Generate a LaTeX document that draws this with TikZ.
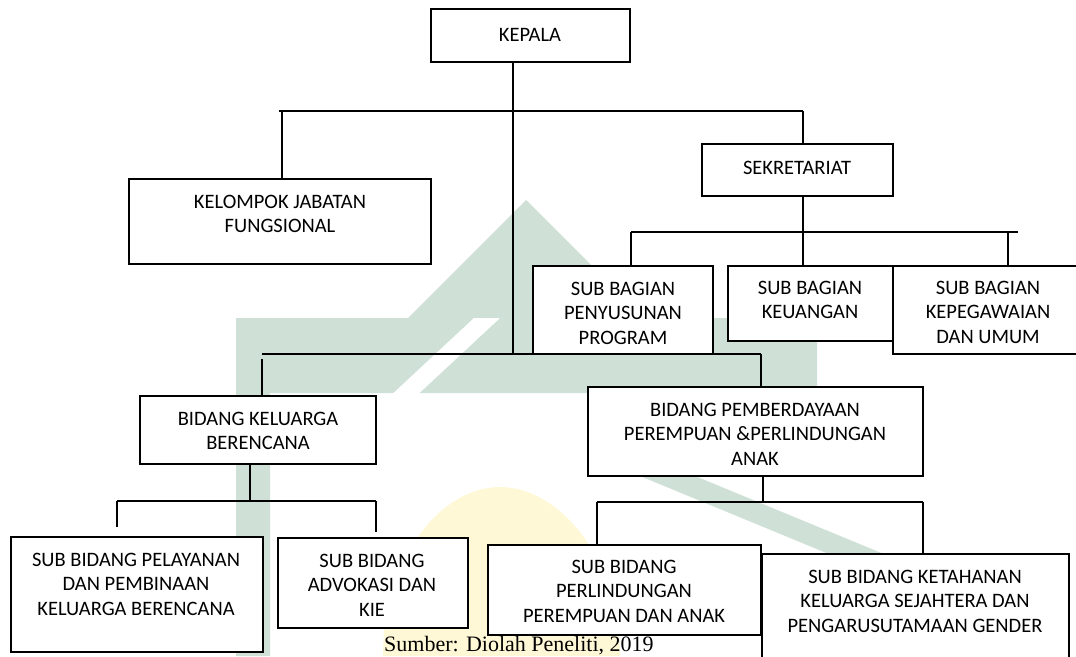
\documentclass[tikz,border=0pt]{standalone}
\usepackage{fontspec}
\setmainfont{Carlito}
\newfontfamily\capfont{Liberation Serif}
\usetikzlibrary{calc}
\definecolor{wmgreen}{RGB}{207,224,214}
\definecolor{wmyellow}{RGB}{255,248,214}
\tikzset{
  orgbox/.style={draw=black, line width=1.7pt, fill=white, rectangle, inner sep=0pt},
  lbl/.style={align=center, font=\fontsize{20.5}{24.5}\selectfont, inner sep=0pt, anchor=north, text=black},
  conn/.style={draw=black, line width=1.5pt},
  wm/.style={fill=wmgreen, draw=none},
  wmy/.style={fill=wmyellow, draw=none},
  wmw/.style={fill=white, draw=none},
}
\begin{document}
\begin{tikzpicture}[x=1pt,y=-1pt]
\useasboundingbox (0,0) rectangle (1076,656);
\clip (0,0) rectangle (1076,656);
\fill[white] (0,0) rectangle (1076,656);

% ---------- watermark (faint logo) ----------
\fill[wmy] (383,656) .. controls (383,560) and (440,487) .. (500,487)
           .. controls (560,487) and (620,560) .. (620,656) -- cycle;
\fill[wm] (236,318) -- (408,318) -- (526,200) -- (644,318) -- (817,318)
          -- (817,393) -- (270,393) -- (270,656) -- (236,656) -- cycle;
\fill[wmw] (300,480) -- (326,480) -- (500,318) -- (474,318) -- cycle;
\fill[wm] (640,476) -- (695,476) -- (1000,602) -- (945,602) -- cycle;

% ---------- boxes ----------
\node[orgbox, minimum width=199pt, minimum height=53pt] (kepala) at (530.5,35.5) {};
\node[orgbox, minimum width=302pt, minimum height=85pt] (kjf) at (280,221.5) {};
\node[orgbox, minimum width=191pt, minimum height=52pt] (sekr) at (797.5,170) {};
\node[orgbox, minimum width=180pt, minimum height=88pt] (sbpp) at (623,310) {};
\node[orgbox, minimum width=165pt, minimum height=75pt] (sbk) at (810.5,303.5) {};
\node[orgbox, minimum width=190pt, minimum height=88pt] (sbku) at (988,310) {};
\node[orgbox, minimum width=236pt, minimum height=68pt] (bkb) at (258,430) {};
\node[orgbox, minimum width=335pt, minimum height=89pt] (bpp) at (755.5,431.5) {};
\node[orgbox, minimum width=252pt, minimum height=115pt] (sbpl) at (137,594.5) {};
\node[orgbox, minimum width=190pt, minimum height=90pt] (sbadv) at (373,583) {};
\node[orgbox, minimum width=273pt, minimum height=90pt] (sbpa) at (624.5,590) {};
\node[orgbox, minimum width=307pt, minimum height=132pt] (sbkt) at (915.5,620) {};

% ---------- connectors ----------
\coordinate (t0) at (279,111);
\coordinate (t1) at (282,111);
\coordinate (t2) at (513,111);
\coordinate (t3) at (803,111);
\coordinate (b2) at (513,354);
\draw[conn] (t0) -- (t3);
\draw[conn] (t1) -- (t1 |- kjf.north);
\draw[conn] (t3) -- (t3 |- sekr.north);
\draw[conn] (t2 |- kepala.south) -- (b2);

\coordinate (s0) at (631,232);
\coordinate (s1) at (803,232);
\coordinate (s2) at (1008,232);
\coordinate (s3) at (1018,232);
\draw[conn] (s1 |- sekr.south) -- (s1 |- sbk.north);
\draw[conn] (s0) -- (s3);
\draw[conn] (s0) -- (s0 |- sbpp.north);
\draw[conn] (s2) -- (s2 |- sbku.north);

\coordinate (m0) at (262,354);
\coordinate (m0g) at (262,359);
\coordinate (m1) at (761,354);
\draw[conn] (m0) -- (m1);
\draw[conn] (m0g) -- (m0g |- bkb.north);
\draw[conn] (m1) -- (m1 |- bpp.north);

\coordinate (k0) at (117,501);
\coordinate (k0e) at (117,527);
\coordinate (k1) at (250,501);
\coordinate (k2) at (376,501);
\coordinate (k2e) at (376,532);
\draw[conn] (k1 |- bkb.south) -- (k1);
\draw[conn] (k0) -- (k2);
\draw[conn] (k0) -- (k0e);
\draw[conn] (k2) -- (k2e);

\coordinate (p0) at (597,502);
\coordinate (p1) at (763,502);
\coordinate (p2) at (923,502);
\draw[conn] (p1 |- bpp.south) -- (p1);
\draw[conn] (p0) -- (p2);
\draw[conn] (p0) -- (p0 |- sbpa.north);
\draw[conn] (p2) -- (p2 |- sbkt.north);

% ---------- labels ----------
\node[lbl] (kepalaT) at (530,27.8) {KEPALA};
\node[lbl] (kjfT) at (280,194.8) {KELOMPOK JABATAN\\FUNGSIONAL};
\node[lbl] (sekrT) at (797,160.8) {SEKRETARIAT};
\node[lbl] (sbppT) at (623,281.8) {SUB BAGIAN\\PENYUSUNAN\\PROGRAM};
\node[lbl] (sbkT) at (810,280.8) {SUB BAGIAN\\KEUANGAN};
\node[lbl] (sbkuT) at (988,280.8) {SUB BAGIAN\\KEPEGAWAIAN\\DAN UMUM};
\node[lbl] (bkbT) at (258,411.8) {BIDANG KELUARGA\\BERENCANA};
\node[lbl] (bppT) at (755,402.8) {BIDANG PEMBERDAYAAN\\PEREMPUAN \&PERLINDUNGAN\\ANAK};
\node[lbl] (sbplT) at (136,552.8) {SUB BIDANG PELAYANAN\\DAN PEMBINAAN\\KELUARGA BERENCANA};
\node[lbl] (sbadvT) at (372,553.8) {SUB BIDANG\\ADVOKASI DAN\\KIE};
\node[lbl] (sbpaT) at (624,559.8) {SUB BIDANG\\PERLINDUNGAN\\PEREMPUAN DAN ANAK};
\node[lbl] (sbktT) at (915,569.8) {SUB BIDANG KETAHANAN\\KELUARGA SEJAHTERA DAN\\PENGARUSUTAMAAN GENDER};

\node[font=\capfont\fontsize{22}{26}\selectfont, anchor=base west, inner sep=0pt] (src) at (384,651) {Sumber: Diolah Peneliti, 2019};
\end{tikzpicture}
\end{document}
